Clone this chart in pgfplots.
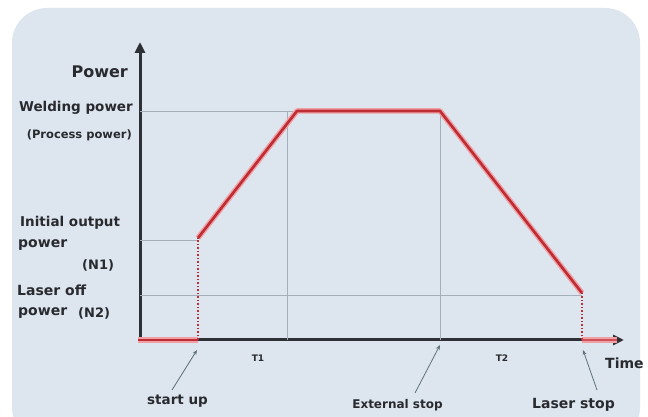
\documentclass[border=0pt]{standalone}
\usepackage{pgfplots}
\pgfplotsset{compat=1.18}
\usepackage{fontspec}
\setmainfont{DejaVu Sans}
\usetikzlibrary{arrows.meta}
\definecolor{bg}{RGB}{221,229,239}
\definecolor{axiscol}{RGB}{45,48,52}
\definecolor{gridcol}{RGB}{165,175,185}
\definecolor{halo}{RGB}{240,160,165}
\definecolor{core}{RGB}{190,45,52}
\definecolor{txt}{RGB}{40,42,46}
\definecolor{ptr}{RGB}{95,115,120}
\newcommand{\fs}[1]{\fontsize{#1}{#1}\selectfont\bfseries}
\begin{document}
\begin{tikzpicture}[x=1pt,y=1pt]
\useasboundingbox (0,0) rectangle (648,417);
\fill[white] (0,0) rectangle (648,417);
\fill[bg, rounded corners=35pt] (12,-25) rectangle (640,409);
\begin{axis}[at={(140pt,77pt)}, anchor=south west, scale only axis,
  width=484pt, height=298pt, xmin=0, xmax=484, ymin=0, ymax=298,
  axis lines=left, xtick=\empty, ytick=\empty, clip=false,
  axis line style={line width=3pt, draw=axiscol, fill=axiscol, line cap=rect,
    -{Triangle[length=11pt,width=10pt]}}]
% reference lines
\addplot[gridcol, line width=0.7pt] coordinates {(0,229) (300,229)};
\addplot[gridcol, line width=0.7pt] coordinates {(0,100) (58,100)};
\addplot[gridcol, line width=0.7pt] coordinates {(0,45) (442,45)};
\addplot[gridcol, line width=0.7pt] coordinates {(147,0) (147,229)};
\addplot[gridcol, line width=0.7pt] coordinates {(300,0) (300,229)};
% power curve: halo
\addplot[halo, line width=5.5pt] coordinates {(-2,0) (58,0)};
\addplot[halo, line width=5.5pt, line join=round] coordinates {(58,102) (157,229) (300,229) (442,47)};
\addplot[halo, line width=5.5pt] coordinates {(442,0) (477,0)};
% power curve: core
\addplot[core, line width=2.6pt] coordinates {(-2,0) (58,0)};
\addplot[core, line width=2.6pt, line join=round] coordinates {(58,102) (157,229) (300,229) (442,47)};
\addplot[core, line width=1.5pt, dotted] coordinates {(58,0) (58,102)};
\addplot[core, line width=1.5pt, dotted] coordinates {(442,0) (442,47)};
\addplot[core!70!halo, line width=2.6pt] coordinates {(442,0) (477,0)};
\end{axis}
% pointer lines
\draw[ptr, line width=0.8pt, -{Stealth[length=5pt,width=4pt]}] (172,27) -- (197,67);
\draw[ptr, line width=0.8pt, -{Stealth[length=5pt,width=4pt]}] (415,24) -- (440,72);
\draw[ptr, line width=0.8pt, -{Stealth[length=5pt,width=4pt]}] (597,27) -- (583,67);
% labels
\begin{scope}[every node/.style={inner sep=0pt, text=txt}]
\node[anchor=east] at (128,345) {\fs{16}Power};
\node[anchor=east] at (133,309) {\fs{13.5}Welding power};
\node[anchor=east] at (132,282) {\fs{11.5}(Process power)};
\node[anchor=west] at (20,194) {\fs{13.5}Initial output};
\node[anchor=west] at (18,172) {\fs{14}power};
\node[anchor=west] at (82,152) {\fs{13}(N1)};
\node[anchor=west] at (17,127) {\fs{14}Laser off};
\node[anchor=west] at (18,104) {\fs{14}power};
\node[anchor=west] at (78,104) {\fs{13}(N2)};
\node at (177.5,16) {\fs{13.5}start up};
\node at (397.5,12) {\fs{12}External stop};
\node at (573.5,12) {\fs{14}Laser stop};
\node at (258,59) {\fs{9}T1};
\node at (502,59) {\fs{9}T2};
\node[anchor=west] at (605,54) {\fs{14}Time};
\end{scope}
\end{tikzpicture}
\end{document}
